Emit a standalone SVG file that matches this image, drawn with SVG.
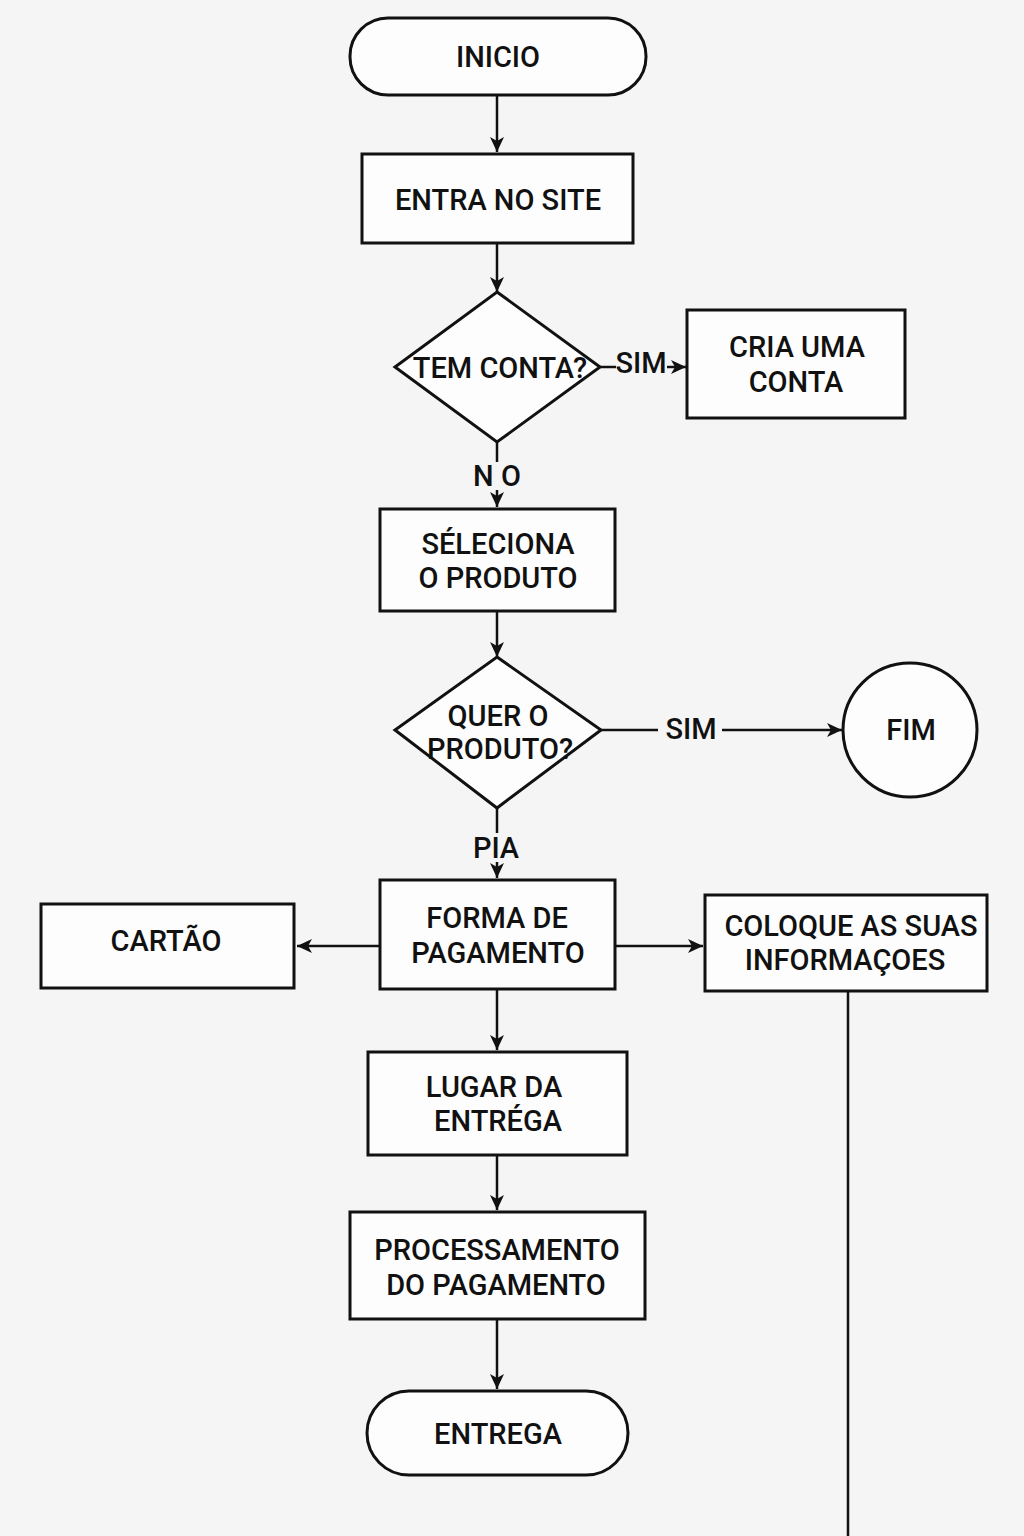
<svg xmlns="http://www.w3.org/2000/svg" width="1024" height="1536" viewBox="0 0 1024 1536">
<defs>
<style>
.n{fill:#fdfdfd;stroke:#111;stroke-width:3}
.t{font-family:Roboto,"Liberation Sans",sans-serif;font-size:29px;font-weight:500;fill:#111;text-anchor:middle;dominant-baseline:central}
.c{stroke:#111;stroke-width:2.5;fill:none}
</style>
<marker id="a" viewBox="0 0 16 16" refX="15" refY="8" markerWidth="16" markerHeight="16" orient="auto" markerUnits="userSpaceOnUse">
<path d="M0,1 L15,8 L0,15 L4,8 Z" fill="#111"/>
</marker>
</defs>
<rect width="1024" height="1536" fill="#f5f5f5"/>
<g id="connectors">
<line class="c" x1="497" y1="95" x2="497" y2="152" marker-end="url(#a)"/>
<line class="c" x1="497" y1="243" x2="497" y2="292" marker-end="url(#a)"/>
<line class="c" x1="600" y1="367" x2="616" y2="367"/>
<line class="c" x1="667" y1="367" x2="686" y2="367" marker-end="url(#a)"/>
<line class="c" x1="497" y1="442" x2="497" y2="462"/>
<line class="c" x1="497" y1="490" x2="497" y2="507" marker-end="url(#a)"/>
<line class="c" x1="497" y1="611" x2="497" y2="657" marker-end="url(#a)"/>
<line class="c" x1="601" y1="730" x2="658" y2="730"/>
<line class="c" x1="722" y1="730" x2="842" y2="730" marker-end="url(#a)"/>
<line class="c" x1="497" y1="808" x2="497" y2="833"/>
<line class="c" x1="497" y1="862" x2="497" y2="878" marker-end="url(#a)"/>
<line class="c" x1="380" y1="946" x2="297" y2="946" marker-end="url(#a)"/>
<line class="c" x1="615" y1="946" x2="703" y2="946" marker-end="url(#a)"/>
<line class="c" x1="848" y1="991" x2="848" y2="1536"/>
<line class="c" x1="497" y1="989" x2="497" y2="1050" marker-end="url(#a)"/>
<line class="c" x1="497" y1="1155" x2="497" y2="1210" marker-end="url(#a)"/>
<line class="c" x1="497" y1="1319" x2="497" y2="1389" marker-end="url(#a)"/>
<text class="t" x="641" y="363">SIM</text>
<text class="t" x="497" y="476">N O</text>
<text class="t" x="691" y="729">SIM</text>
<text class="t" x="496" y="848">PIA</text>
</g>
<g id="inicio"><rect class="n" x="350" y="18" width="296" height="77" rx="38"/><text class="t" x="498" y="57">INICIO</text></g>
<g id="entra"><rect class="n" x="362" y="154" width="271" height="89"/><text class="t" x="498" y="200">ENTRA NO SITE</text></g>
<g id="temconta"><polygon class="n" points="497,292 600,367 497,442 395,367"/><text class="t" x="500" y="368">TEM CONTA?</text></g>
<g id="cria"><rect class="n" x="687" y="310" width="218" height="108"/><text class="t" x="797" y="347">CRIA UMA</text><text class="t" x="796" y="382">CONTA</text></g>
<g id="seleciona"><rect class="n" x="380" y="509" width="235" height="102"/><text class="t" x="498" y="544">SÉLECIONA</text><text class="t" x="498" y="578">O PRODUTO</text></g>
<g id="quer"><polygon class="n" points="497,657 601,730 497,808 395,730"/><text class="t" x="498" y="716">QUER O</text><text class="t" x="500" y="749">PRODUTO?</text></g>
<g id="fim"><circle class="n" cx="910" cy="730" r="67"/><text class="t" x="911" y="730">FIM</text></g>
<g id="forma"><rect class="n" x="380" y="880" width="235" height="109"/><text class="t" x="497" y="918">FORMA DE</text><text class="t" x="498" y="953">PAGAMENTO</text></g>
<g id="cartao"><rect class="n" x="41" y="904" width="253" height="84"/><text class="t" x="166" y="941">CARTÃO</text></g>
<g id="coloque"><rect class="n" x="705" y="895" width="282" height="96"/><text class="t" x="851" y="926">COLOQUE AS SUAS</text><text class="t" x="845" y="960">INFORMAÇOES</text></g>
<g id="lugar"><rect class="n" x="368" y="1052" width="259" height="103"/><text class="t" x="494" y="1087">LUGAR DA</text><text class="t" x="498" y="1121">ENTRÉGA</text></g>
<g id="processamento"><rect class="n" x="350" y="1212" width="295" height="107"/><text class="t" x="497" y="1250">PROCESSAMENTO</text><text class="t" x="496" y="1285">DO PAGAMENTO</text></g>
<g id="entrega"><rect class="n" x="367" y="1391" width="261" height="84" rx="42"/><text class="t" x="498" y="1434">ENTREGA</text></g>
</svg>
